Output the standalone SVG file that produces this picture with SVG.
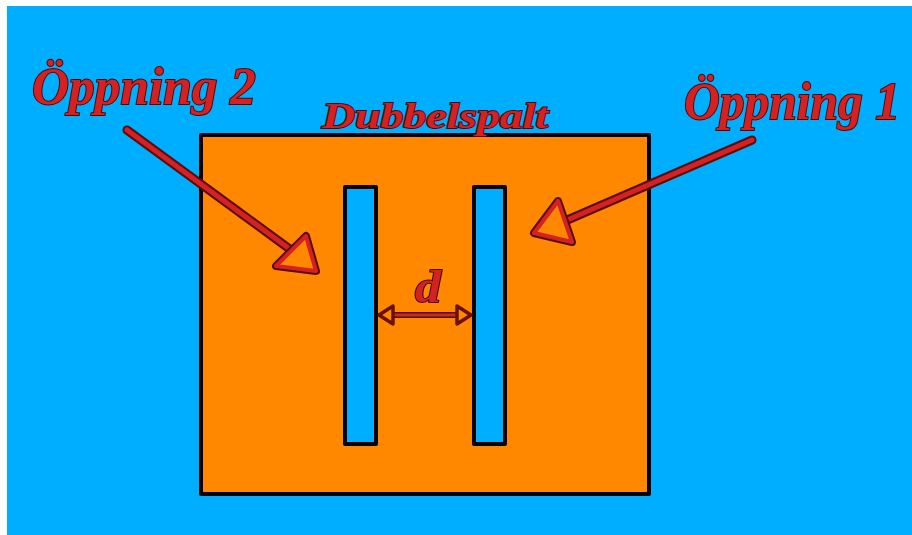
<svg xmlns="http://www.w3.org/2000/svg" width="912" height="535" viewBox="0 0 912 535">
<defs>
<style>
.lbl{font-family:"Liberation Serif","DejaVu Serif",serif;font-style:italic;font-weight:bold;fill:#d42222;stroke:#4a0a0a;stroke-width:2;paint-order:stroke;}
.slit{fill:#00aeff;stroke:#000;stroke-width:4;stroke-linejoin:round;}
.ol{stroke:#5a0c0c;stroke-width:9;stroke-linecap:round;fill:none;}
.il{stroke:#d42222;stroke-width:5;stroke-linecap:round;fill:none;}
.tri{fill:#ff8800;stroke-linejoin:round;}
</style>
</defs>
<rect x="0" y="0" width="912" height="535" fill="#ffffff"/>
<rect x="7" y="6" width="905" height="529" fill="#00aeff"/>
<g id="plate">
<rect x="201" y="135" width="448" height="359" fill="#ff8800" stroke="#000" stroke-width="4" stroke-linejoin="round"/>
</g>
<g id="slit2"><rect class="slit" x="345" y="187" width="31" height="257"/></g>
<g id="slit1"><rect class="slit" x="474" y="187" width="31" height="257"/></g>
<g id="title"><text class="lbl" x="322" y="128" font-size="36" textLength="226" lengthAdjust="spacingAndGlyphs">Dubbelspalt</text></g>
<g id="label2"><text class="lbl" x="32" y="104" font-size="52" textLength="224" lengthAdjust="spacingAndGlyphs">Öppning 2</text></g>
<g id="label1"><text class="lbl" x="684" y="119" font-size="52" textLength="216" lengthAdjust="spacingAndGlyphs">Öppning 1</text></g>
<g id="dlabel"><text class="lbl" x="415" y="302" font-size="46" textLength="26" lengthAdjust="spacingAndGlyphs">d</text></g>
<g id="connectors">
<g id="arrow2">
<line class="ol" x1="127" y1="130" x2="291" y2="250"/>
<line class="il" x1="127" y1="130" x2="291" y2="250"/>
<polygon class="tri" points="306,236 316,271 276,266" stroke="#5a0c0c" stroke-width="8"/>
<polygon class="tri" points="306,236 316,271 276,266" stroke="#d42222" stroke-width="4"/>
</g>
<g id="arrow1">
<line class="ol" x1="752" y1="140" x2="565" y2="221"/>
<line class="il" x1="752" y1="140" x2="565" y2="221"/>
<polygon class="tri" points="558,201 534,233 572,242" stroke="#5a0c0c" stroke-width="8"/>
<polygon class="tri" points="558,201 534,233 572,242" stroke="#d42222" stroke-width="4"/>
</g>
<g id="darrow">
<line x1="392" y1="315" x2="458" y2="315" stroke="#5a0c0c" stroke-width="6"/>
<line x1="392" y1="315" x2="458" y2="315" stroke="#c0301a" stroke-width="3"/>
<polygon points="379,315 393,306 393,324" fill="#ff8800" stroke="#6a1008" stroke-width="3.5" stroke-linejoin="round"/>
<polygon points="471,315 457,306 457,324" fill="#ff8800" stroke="#6a1008" stroke-width="3.5" stroke-linejoin="round"/>
</g>
</g>
</svg>
